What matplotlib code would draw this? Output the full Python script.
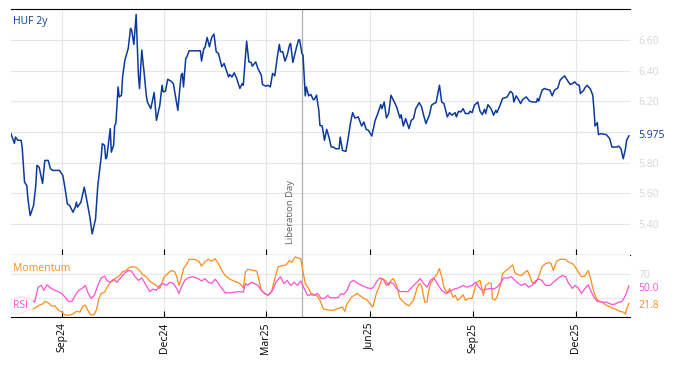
import matplotlib
matplotlib.use("Agg")
import matplotlib.pyplot as plt
import matplotlib.dates as mdates
import numpy as np
import pandas as pd

plt.rcParams['font.family'] = ['Open Sans', 'DejaVu Sans']

start = pd.Timestamp("2024-07-18")
lib_day = pd.Timestamp("2025-04-02")

# HUF 2y yield: day offset from start, value
huf_days = [0, 3, 4, 6, 9, 10, 12, 14, 15, 17, 20, 22, 23, 25, 28, 29, 30, 33, 35, 37,
            40, 43, 46, 48, 50, 52, 55, 57, 58, 59, 62, 65, 67, 70, 72, 75, 77, 80, 81, 83,
            84, 85, 88, 89, 91, 92, 93, 95, 96, 98, 99, 101, 104, 106, 107, 109, 111, 113, 114, 116,
            118, 120, 121, 124, 127, 129, 132, 134, 135, 137, 139, 142, 144, 146, 148, 150, 151, 152, 153, 155,
            156, 158, 162, 168, 169, 171, 172, 174, 176, 178, 180, 182, 184, 187, 189, 191, 193, 194, 196, 198,
            200, 203, 205, 206, 208, 209, 211, 213, 214, 217, 219, 222, 223, 226, 228, 230, 232, 234, 236, 238,
            239, 241, 243, 245, 247, 248, 250, 253, 255, 256, 258, 259, 261, 262, 264, 266, 268, 269, 271, 273,
            274, 276, 278, 280, 282, 284, 286, 288, 291, 292, 294, 297, 299, 301, 303, 305, 308, 311, 313, 315,
            317, 320, 323, 325, 328, 329, 331, 333, 335, 337, 340, 342, 345, 346, 348, 350, 353, 355, 357, 359,
            362, 364, 366, 368, 371, 373, 375, 377, 380, 382, 384, 387, 389, 391, 394, 395, 397, 399, 401, 403,
            406, 407, 409, 411, 414, 416, 418, 420, 421, 423, 426, 428, 430, 431, 434, 436, 438, 440, 443, 445,
            446, 448, 450, 452, 454, 457, 460, 463, 466, 467, 468, 471, 473, 475, 478, 480, 482, 485, 487, 489,
            491, 494, 496, 498, 500, 502, 504, 505, 508, 509, 511, 514, 516, 517, 518, 520, 521, 523, 528, 531,
            533, 537, 539, 541, 543, 545, 546, 548]
huf_vals = [5.989, 5.926, 5.967, 5.946, 5.946, 5.893, 5.674, 5.652, 5.567, 5.456, 5.522, 5.652, 5.783, 5.771, 5.665, 5.739, 5.815, 5.815, 5.761, 5.750,
            5.750, 5.750, 5.717, 5.631, 5.533, 5.522, 5.478, 5.511, 5.543, 5.511, 5.543, 5.641, 5.565, 5.445, 5.337, 5.435, 5.652, 5.837, 5.924, 5.913,
            5.826, 5.837, 6.022, 5.869, 5.913, 6.043, 6.055, 6.293, 6.228, 6.239, 6.358, 6.467, 6.544, 6.674, 6.663, 6.570, 6.765, 6.370, 6.283, 6.533,
            6.391, 6.239, 6.195, 6.152, 6.257, 6.076, 6.174, 6.304, 6.261, 6.265, 6.343, 6.330, 6.315, 6.228, 6.141, 6.304, 6.370, 6.381, 6.293, 6.478,
            6.489, 6.528, 6.528, 6.528, 6.461, 6.544, 6.548, 6.615, 6.554, 6.615, 6.637, 6.522, 6.511, 6.424, 6.446, 6.402, 6.358, 6.374, 6.358, 6.385,
            6.352, 6.283, 6.315, 6.304, 6.500, 6.591, 6.456, 6.452, 6.428, 6.456, 6.413, 6.370, 6.309, 6.298, 6.304, 6.293, 6.381, 6.365, 6.478, 6.570,
            6.522, 6.522, 6.461, 6.500, 6.565, 6.576, 6.452, 6.544, 6.598, 6.600, 6.511, 6.500, 6.235, 6.293, 6.235, 6.244, 6.211, 6.211, 6.239, 6.141,
            6.043, 6.039, 5.946, 6.017, 5.967, 5.902, 5.902, 5.891, 5.891, 5.967, 5.880, 5.874, 5.957, 6.055, 6.126, 6.091, 6.098, 6.039, 6.065, 6.017,
            6.011, 5.974, 6.076, 6.113, 6.178, 6.152, 6.195, 6.091, 6.120, 6.239, 6.195, 6.163, 6.091, 6.113, 6.039, 6.087, 6.022, 6.076, 6.087, 6.152,
            6.191, 6.167, 6.109, 6.055, 6.109, 6.174, 6.185, 6.191, 6.304, 6.195, 6.185, 6.098, 6.126, 6.109, 6.126, 6.098, 6.135, 6.130, 6.152, 6.120,
            6.120, 6.135, 6.126, 6.174, 6.195, 6.135, 6.113, 6.148, 6.120, 6.178, 6.148, 6.109, 6.141, 6.126, 6.178, 6.218, 6.222, 6.228, 6.265, 6.250,
            6.195, 6.235, 6.213, 6.185, 6.213, 6.228, 6.200, 6.195, 6.195, 6.218, 6.200, 6.272, 6.283, 6.278, 6.272, 6.235, 6.272, 6.287, 6.337, 6.352,
            6.365, 6.330, 6.309, 6.315, 6.326, 6.309, 6.304, 6.250, 6.272, 6.287, 6.304, 6.278, 6.239, 6.152, 6.039, 6.061, 5.983, 5.989, 5.983, 5.957,
            5.902, 5.902, 5.908, 5.891, 5.826, 5.891, 5.946, 5.975]

mom_days = [0, 6, 20, 25, 28, 30, 33, 36, 39, 42, 45, 48, 52, 55, 58, 61, 64, 66, 68, 71,
            74, 76, 78, 80, 83, 85, 88, 91, 93, 96, 99, 102, 105, 108, 111, 114, 117, 120, 123, 126,
            129, 132, 134, 136, 139, 142, 145, 147, 149, 151, 153, 156, 158, 163, 167, 169, 172, 175, 178, 181,
            184, 187, 190, 194, 198, 203, 206, 208, 210, 215, 218, 220, 222, 225, 228, 231, 234, 237, 241, 244,
            247, 249, 252, 255, 257, 259, 261, 264, 266, 271, 274, 277, 282, 286, 289, 292, 294, 296, 298, 302,
            307, 310, 313, 316, 319, 321, 324, 327, 329, 332, 335, 337, 339, 342, 345, 350, 353, 357, 360, 362,
            364, 367, 369, 370, 372, 375, 378, 380, 382, 384, 387, 389, 392, 394, 396, 398, 401, 403, 406, 409,
            411, 413, 416, 418, 419, 421, 424, 426, 427, 429, 431, 434, 436, 439, 442, 445, 447, 450, 453, 455,
            458, 460, 462, 465, 468, 471, 474, 477, 479, 481, 484, 487, 492, 494, 498, 500, 503, 506, 509, 512,
            514, 517, 520, 524, 528, 533, 537, 540, 543, 545, 546, 548]
mom_vals = [5, 5, 13, 19, 21, 25, 23, 18, 18, 11, 8, 3, 3, 5, 9, 8, 18, 19, 11, 3,
            4, 13, 30, 38, 40, 47, 56, 59, 63, 66, 73, 75, 80, 81, 80, 75, 68, 65, 58, 54,
            51, 46, 56, 65, 70, 75, 73, 65, 51, 62, 78, 86, 93, 93, 89, 82, 89, 93, 90, 94,
            86, 75, 67, 61, 58, 54, 47, 73, 77, 75, 74, 59, 43, 38, 35, 40, 62, 81, 83, 84,
            91, 88, 97, 95, 94, 73, 54, 46, 38, 35, 27, 13, 11, 11, 13, 15, 16, 9, 21, 32,
            38, 34, 30, 27, 20, 16, 38, 51, 62, 59, 51, 59, 62, 51, 30, 21, 18, 27, 46, 54,
            51, 24, 24, 38, 54, 62, 70, 78, 65, 48, 38, 46, 32, 35, 27, 30, 36, 27, 30, 30,
            43, 56, 59, 43, 35, 51, 55, 54, 30, 27, 32, 51, 70, 75, 79, 84, 71, 68, 67, 71,
            75, 67, 56, 54, 65, 81, 86, 88, 86, 75, 90, 93, 93, 89, 86, 82, 73, 65, 66, 75,
            62, 40, 27, 24, 19, 15, 12, 9, 8, 5, 13, 21.8]

rsi_days = [0, 8, 17, 21, 24, 27, 29, 32, 35, 39, 42, 45, 48, 51, 54, 57, 60, 63, 66, 68,
            71, 74, 77, 80, 83, 85, 88, 91, 94, 98, 101, 104, 107, 110, 113, 116, 119, 123, 126, 129,
            132, 135, 138, 141, 144, 147, 149, 151, 154, 157, 161, 166, 169, 172, 175, 178, 181, 184, 187, 190,
            194, 198, 203, 206, 208, 210, 213, 216, 219, 222, 225, 228, 232, 235, 239, 242, 245, 248, 251, 254,
            257, 260, 263, 266, 269, 272, 275, 278, 281, 283, 286, 290, 293, 295, 298, 301, 304, 307, 311, 316,
            319, 321, 324, 327, 330, 333, 336, 339, 342, 345, 350, 352, 355, 360, 363, 366, 369, 372, 375, 379,
            382, 386, 389, 393, 397, 401, 404, 409, 412, 415, 418, 422, 425, 428, 431, 434, 437, 441, 444, 447,
            450, 453, 456, 459, 462, 465, 468, 471, 474, 478, 481, 485, 489, 492, 494, 498, 500, 503, 506, 509,
            512, 514, 517, 520, 524, 528, 533, 536, 539, 542, 545, 548]
rsi_vals = [27, 33, 29, 24, 48, 51, 43, 52, 47, 43, 41, 38, 32, 25, 25, 35, 43, 46, 51, 40,
            30, 35, 51, 63, 66, 59, 56, 61, 56, 65, 71, 75, 74, 65, 59, 63, 54, 41, 45, 43,
            51, 54, 51, 56, 54, 46, 38, 48, 59, 63, 65, 62, 58, 62, 56, 54, 61, 54, 46, 39,
            39, 40, 41, 40, 54, 51, 56, 54, 51, 43, 38, 35, 43, 56, 65, 54, 59, 51, 56, 51,
            58, 46, 35, 36, 35, 38, 30, 30, 35, 31, 31, 31, 38, 36, 43, 56, 59, 55, 51, 47,
            46, 47, 56, 63, 61, 51, 56, 54, 46, 41, 41, 41, 47, 56, 62, 54, 48, 59, 63, 51,
            43, 38, 41, 45, 47, 51, 48, 51, 56, 48, 43, 45, 46, 45, 48, 54, 63, 63, 65, 59,
            54, 51, 54, 48, 51, 58, 61, 59, 51, 51, 56, 62, 67, 65, 56, 46, 51, 47, 38, 46,
            52, 43, 32, 25, 24, 24, 20, 21, 24, 25, 35, 50]

huf_ticks = [5.4, 5.6, 5.8, 6.0, 6.2, 6.4, 6.6]
huf_ticklabels = ["5.40", "5.60", "5.80", "", "6.20", "6.40", "6.60"]  # 6.00 sits under the 5.975 tag
ind_ticks = [30, 70]
ind_ticklabels = ["", "70"]  # 30 sits under the value tags

huf_dates = start + pd.to_timedelta(huf_days, unit="D")
mom_dates = start + pd.to_timedelta(mom_days, unit="D")
rsi_dates = start + pd.to_timedelta(rsi_days, unit="D")

blue = "#0b3a9f"
orange = "#ff8c1a"
pink = "#ff4fd6"
grid_c = "#e6e6e6"
tick_c = "#d6d6d6"

fig = plt.figure(figsize=(6.74, 3.66), dpi=100)
ax = fig.add_axes([0.0163, 0.3033, 0.9184, 0.6721])
ax2 = fig.add_axes([0.0163, 0.1339, 0.9184, 0.1694], sharex=ax)

ax.plot(huf_dates, huf_vals, color=blue, lw=1.1)
ax2.plot(mom_dates, mom_vals, color=orange, lw=0.9)
ax2.plot(rsi_dates, rsi_vals, color=pink, lw=0.9)

ax.set_ylim(5.2, 6.8)
ax.set_yticks(huf_ticks, huf_ticklabels)
ax2.set_ylim(0, 100)
ax2.set_yticks(ind_ticks, ind_ticklabels)

ax.set_xlim(start, start + pd.Timedelta(days=549))
ax2.xaxis.set_major_locator(mdates.MonthLocator(bymonth=[3, 6, 9, 12]))
ax2.xaxis.set_major_formatter(mdates.DateFormatter("%b%y"))

for a in (ax, ax2):
    a.grid(True, color=grid_c, lw=0.8)
    a.set_axisbelow(True)
    a.yaxis.tick_right()
    a.tick_params(axis="y", length=0, labelcolor=tick_c, labelsize=7.5, pad=6)
    a.tick_params(axis="x", direction="in", length=4, width=0.8, color="black")
    for s in ("left", "right"):
        a.spines[s].set_visible(False)
    a.axvline(lib_day, color="#b0b0b0", lw=0.9, zorder=1)

ax.tick_params(axis="x", labelbottom=False)
ax2.spines["top"].set_visible(False)
ax2.tick_params(axis="x", labelsize=7.5, labelrotation=90, pad=4, labelcolor="black")

ax.text(0.004, 0.95, "HUF 2y", transform=ax.transAxes, color=blue, fontsize=7.5, va="center")
ax.text(lib_day - pd.Timedelta(days=10), 5.27, "Liberation Day", rotation=90, color="#606060",
        fontsize=6.8, ha="center", va="bottom")

ax.annotate("5.975", xy=(1, huf_vals[-1]), xycoords=("axes fraction", "data"), xytext=(6, 0),
            textcoords="offset points", color=blue, fontsize=7.5, va="center", ha="left")
ax2.annotate("50.0", xy=(1, rsi_vals[-1]), xycoords=("axes fraction", "data"), xytext=(6, -1.5),
             textcoords="offset points", color=pink, fontsize=7.5, va="center", ha="left")
ax2.annotate("21.8", xy=(1, mom_vals[-1]), xycoords=("axes fraction", "data"), xytext=(6, -1.5),
             textcoords="offset points", color=orange, fontsize=7.5, va="center", ha="left")

ax2.text(0.004, 0.78, "Momentum", transform=ax2.transAxes, color=orange, fontsize=7.5, va="center")
ax2.text(0.004, 0.18, "RSI", transform=ax2.transAxes, color=pink, fontsize=7.5, va="center",
         bbox=dict(facecolor="white", edgecolor="none", alpha=0.8, pad=3))

fig.savefig("out.png", dpi=100)
